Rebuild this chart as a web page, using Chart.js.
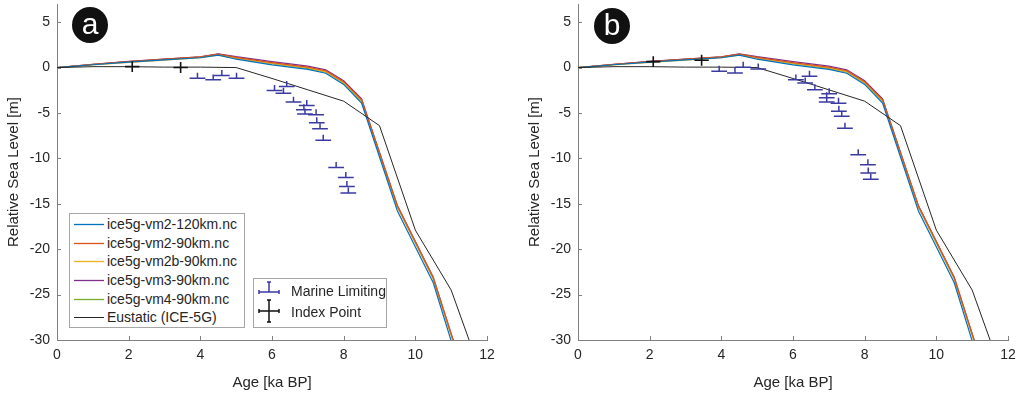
<!DOCTYPE html>
<html>
<head>
<meta charset="utf-8">
<script src="https://cdn.jsdelivr.net/npm/chart.js@4.4.0/dist/chart.umd.min.js"></script>
<style>
  body { margin: 0; background: #fff; font-family: "Liberation Sans", Arial, sans-serif; }
  #wrap { position: relative; width: 1028px; height: 395px; overflow: hidden; }
  #wrap canvas { position: absolute; top: 0; }
  .badge { position: absolute; width: 36px; height: 36px; border-radius: 50%; background: #111;
    color: #fff; font-size: 30px; line-height: 33px; text-align: center; }
  .legend { position: absolute; background: #fff; border: 1px solid #a6a6a6; box-sizing: border-box;
    font-size: 14px; color: #262626; }
  .legend .row { position: relative; height: 18.7px; line-height: 18.7px; white-space: nowrap; }
  .legend svg { position: absolute; top: 0; }
</style>
</head>
<body>
<div id="wrap">
  <canvas id="chart-a" width="507" height="395" style="left:0"></canvas>
  <canvas id="chart-b" width="507" height="395" style="left:521px"></canvas>
  <div class="badge" style="left:72px; top:7px">a</div>
  <div class="badge" style="left:594px; top:8px">b</div>
  <div class="legend" id="legend-models" style="left:69px; top:213px; width:176px; height:115px; padding-top:1px"></div>
  <div class="legend" id="legend-data" style="left:253px; top:278px; width:134px; height:50px; padding-top:2px"></div>
</div>
<script>
// 軸
const xTicks = [0, 2, 4, 6, 8, 10, 12];
const yTicks = [-30, -25, -20, -15, -10, -5, 0, 5];

// 模型曲線 (ka BP / m)
const ages = [0, 1, 2, 3, 4, 4.5, 5, 6, 7, 7.5, 8, 8.5, 9.5, 10.5, 11, 11.5];
const vm2_120 = [0, 0.31, 0.6, 0.84, 1.08, 1.36, 0.92, 0.3, -0.2, -0.62, -1.85, -3.9, -15.8, -23.7, -30.1, -36];
const vm2_90 = [0, 0.36, 0.67, 0.92, 1.17, 1.48, 1.12, 0.55, 0.05, -0.35, -1.55, -3.55, -15.25, -23.15, -29.35, -35.45];
const vm2b_90 = [0, 0.3, 0.58, 0.83, 1.08, 1.38, 1.02, 0.45, -0.05, -0.45, -1.65, -3.65, -15.3, -23.2, -29.4, -35.5];
const vm3_90 = [0, 0.36, 0.68, 0.93, 1.18, 1.52, 1.2, 0.65, 0.15, -0.25, -1.45, -3.45, -15.2, -23.1, -29.3, -35.4];
const vm4_90 = [0, 0.34, 0.65, 0.9, 1.15, 1.45, 1.0, 0.42, -0.08, -0.5, -1.7, -3.7, -15.35, -23.25, -29.45, -35.55];
// 全球平均 (ICE-5G)
const eusAges = [0, 1, 2, 3, 4, 5, 6, 7, 8, 9, 10, 11, 12];
const eustatic = [0, 0.1, 0.1, 0.05, 0.05, 0, -1.2, -2.45, -3.7, -6.4, -17.9, -24.5, -35.5];

const modelNames = ["ice5g-vm2-120km.nc", "ice5g-vm2-90km.nc", "ice5g-vm2b-90km.nc",
  "ice5g-vm3-90km.nc", "ice5g-vm4-90km.nc", "Eustatic (ICE-5G)"];
const modelColors = ["#0072BD", "#D95319", "#EDB120", "#7E2F8E", "#77AC30", "#262626"];

// 海洋限制點 a
const mlAgeA = [3.92, 4.36, 4.6, 5.01, 6.07, 6.41, 6.32, 6.6, 6.97, 6.89, 6.92, 7.23, 7.25, 7.34, 7.43, 7.79, 8.06, 8.09, 8.13];
const mlRslA = [-1.17, -1.35, -0.88, -1.17, -2.53, -2.09, -2.82, -3.8, -4.18, -4.65, -5.1, -5.2, -6.08, -6.74, -8.0, -11.0, -12.1, -13.1, -13.8];
// 指標點 a
const ipAgeA = [2.1, 3.45];
const ipRslA = [0.1, 0.0];

// 海洋限制點 b
const mlAgeB = [3.94, 4.38, 4.61, 5.03, 6.08, 6.46, 6.34, 6.61, 7.01, 6.94, 6.94, 7.27, 7.28, 7.36, 7.45, 7.82, 8.09, 8.1, 8.17];
const mlRslB = [-0.41, -0.59, 0.04, -0.15, -1.35, -0.95, -1.69, -2.45, -2.89, -3.33, -3.8, -3.92, -4.8, -5.35, -6.67, -9.6, -10.7, -11.6, -12.3];
// 指標點 b
const ipAgeB = [2.1, 3.45];
const ipRslB = [0.65, 0.8];

// 誤差
const mlAgeErr = 0.22;
const mlRslErr = 0.6;
const ipAgeErr = 0.2;
const ipRslErr = 0.6;

const AXIS = "#7f7f7f";
const TXT = "#262626";
const MARINE = "#3a3aa3";
const FONT = "'Liberation Sans', Arial, sans-serif";

const zip = (xs, ys) => xs.map((x, i) => ({ x, y: ys[i] }));

// 誤差棒 plugin
const errorBarPlugin = {
  id: "errorBars",
  afterDatasetsDraw(chart) {
    const { ctx, scales: { x, y } } = chart;
    chart.data.datasets.forEach((ds) => {
      if (!ds.errStyle) return;
      ctx.save();
      ctx.strokeStyle = ds.borderColor;
      ctx.lineWidth = ds.errWidth;
      ds.data.forEach((p) => {
        const px = x.getPixelForValue(p.x);
        const py = y.getPixelForValue(p.y);
        ctx.beginPath();
        ctx.moveTo(x.getPixelForValue(p.x - ds.ageErr), py);
        ctx.lineTo(x.getPixelForValue(p.x + ds.ageErr), py);
        if (ds.errStyle === "marine") {
          ctx.moveTo(px, py);
          ctx.lineTo(px, y.getPixelForValue(p.y + ds.rslErr));
        } else {
          ctx.moveTo(px, y.getPixelForValue(p.y - ds.rslErr));
          ctx.lineTo(px, y.getPixelForValue(p.y + ds.rslErr));
        }
        ctx.stroke();
      });
      ctx.restore();
    });
  },
};

// 內向刻度 plugin
const inwardTicks = {
  id: "inwardTicks",
  afterDraw(chart) {
    const { ctx, chartArea, scales: { x, y } } = chart;
    ctx.save();
    ctx.strokeStyle = AXIS;
    ctx.lineWidth = 1;
    ctx.beginPath();
    x.ticks.forEach((t) => {
      const px = Math.round(x.getPixelForValue(t.value)) + 0.5;
      ctx.moveTo(px, chartArea.bottom);
      ctx.lineTo(px, chartArea.bottom - 4);
    });
    y.ticks.forEach((t) => {
      const py = Math.round(y.getPixelForValue(t.value)) + 0.5;
      ctx.moveTo(chartArea.left, py);
      ctx.lineTo(chartArea.left + 4, py);
    });
    ctx.stroke();
    ctx.restore();
  },
};

function makeChart(el, mlAge, mlRsl, ipAge, ipRsl) {
  const series = [vm2_120, vm2_90, vm2b_90, vm3_90, vm4_90];
  // 全球平均先畫，模型線依 Matlab 順序疊上
  const lineSets = [{
    label: modelNames[5],
    data: zip(eusAges, eustatic),
    showLine: true,
    borderColor: modelColors[5],
    borderWidth: 1,
    pointRadius: 0,
  }];
  series.forEach((s, i) => {
    lineSets.push({
      label: modelNames[i],
      data: zip(ages, s),
      showLine: true,
      borderColor: modelColors[i],
      borderWidth: 1.2,
      pointRadius: 0,
    });
  });

  return new Chart(el, {
    type: "scatter",
    data: {
      datasets: [
        ...lineSets,
        {
          label: "Marine Limiting",
          data: zip(mlAge, mlRsl),
          borderColor: MARINE,
          pointRadius: 0,
          errStyle: "marine",
          ageErr: mlAgeErr,
          rslErr: mlRslErr,
          errWidth: 1.5,
        },
        {
          label: "Index Point",
          data: zip(ipAge, ipRsl),
          borderColor: "#111",
          pointRadius: 0,
          errStyle: "index",
          ageErr: ipAgeErr,
          rslErr: ipRslErr,
          errWidth: 1.6,
        },
      ],
    },
    options: {
      responsive: false,
      animation: false,
      layout: { padding: { top: 4, right: 20, left: 0, bottom: 0 } },
      plugins: { legend: { display: false }, tooltip: { enabled: false } },
      scales: {
        x: {
          type: "linear",
          min: 0,
          max: 12,
          afterBuildTicks: (s) => { s.ticks = xTicks.map((v) => ({ value: v })); },
          afterFit: (s) => { s.height = 55; s.paddingLeft = 0; s.paddingRight = 0; },
          grid: { drawOnChartArea: false, drawTicks: false },
          border: { display: true, color: AXIS, width: 1 },
          ticks: { color: TXT, padding: 7, maxRotation: 0, font: { family: FONT, size: 14 } },
          title: {
            display: true,
            text: "Age [ka BP]",
            color: TXT,
            font: { family: FONT, size: 15 },
            padding: { top: 0, bottom: 3 },
          },
        },
        y: {
          type: "linear",
          min: -30,
          max: 7,
          afterBuildTicks: (s) => { s.ticks = yTicks.map((v) => ({ value: v })); },
          afterFit: (s) => { s.width = 57; s.paddingTop = 0; s.paddingBottom = 0; },
          grid: { drawOnChartArea: false, drawTicks: false },
          border: { display: true, color: AXIS, width: 1 },
          ticks: { color: TXT, padding: 7, font: { family: FONT, size: 14 } },
          title: {
            display: true,
            text: "Relative Sea Level [m]",
            color: TXT,
            font: { family: FONT, size: 15 },
            padding: { top: 5, bottom: 0 },
          },
        },
      },
    },
    plugins: [errorBarPlugin, inwardTicks],
  });
}

makeChart(document.getElementById("chart-a"), mlAgeA, mlRslA, ipAgeA, ipRslA);
makeChart(document.getElementById("chart-b"), mlAgeB, mlRslB, ipAgeB, ipRslB);

// 圖例
const legendModels = document.getElementById("legend-models");
modelNames.forEach((name, i) => {
  const row = document.createElement("div");
  row.className = "row";
  row.innerHTML =
    `<svg width="32" height="19" style="left:3px"><line x1="1" y1="9.5" x2="31" y2="9.5" stroke="${modelColors[i]}" stroke-width="${i === 5 ? 1 : 1.3}"/></svg>` +
    `<span style="position:absolute; left:37px">${name}</span>`;
  legendModels.append(row);
});

const legendData = document.getElementById("legend-data");
const marineIcon =
  `<svg width="26" height="21" style="left:2px; top:-2px">` +
  `<g stroke="${MARINE}" stroke-width="1.5" fill="none">` +
  `<path d="M3 13 H23 M3 11 V15 M23 11 V15 M13 13 V3 M11 3 H15"/></g></svg>`;
const indexIcon =
  `<svg width="26" height="24" style="left:2px; top:-3px">` +
  `<g stroke="#111" stroke-width="1.5" fill="none">` +
  `<path d="M3 12 H23 M3 10 V14 M23 10 V14 M13 1 V23 M11 1 H15 M11 23 H15"/></g></svg>`;
[[marineIcon, "Marine Limiting"], [indexIcon, "Index Point"]].forEach(([icon, name]) => {
  const row = document.createElement("div");
  row.className = "row";
  row.style.height = "21px";
  row.style.lineHeight = "21px";
  row.innerHTML = icon + `<span style="position:absolute; left:37px">${name}</span>`;
  legendData.append(row);
});
</script>
</body>
</html>
